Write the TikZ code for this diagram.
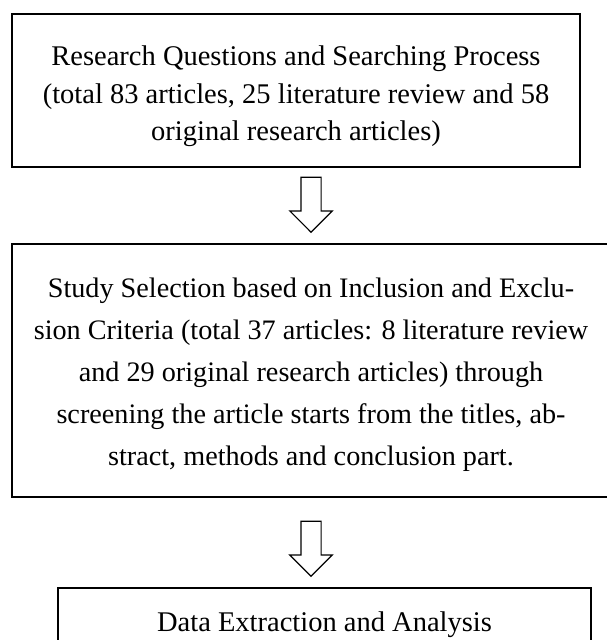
\documentclass[tikz,border=0pt]{standalone}
\usepackage{fontspec}
\setmainfont{Liberation Serif}
\usetikzlibrary{shapes.arrows}

\tikzset{
  stagebox/.style={draw, line width=1.8pt, align=center, inner sep=0pt},
  downarrow/.style={draw, line width=1.2pt, single arrow, shape border rotate=270,
    minimum height=55pt, minimum width=41pt, inner sep=9.5pt,
    single arrow head extend=11pt, single arrow head indent=0pt, anchor=tip}
}

\begin{document}
\begin{tikzpicture}[x=1pt, y=-1pt]
  \useasboundingbox (0,0) rectangle (607,640);
  \clip (0,0) rectangle (607,640);

  % stages
  \node[stagebox, minimum width=568pt, minimum height=153pt,
    font=\fontsize{28.5}{37.5}\selectfont] (research) at (296,90.5)
    {\rule{0pt}{32pt}Research Questions and Searching Process\\
     (total 83 articles, 25 literature review and 58\\
     original research articles)};
  \node[stagebox, minimum width=598pt, minimum height=253pt,
    font=\fontsize{28.2}{42}\selectfont] (selection) at (311,370.5)
    {\rule{0pt}{27.5pt}Study Selection based on Inclusion and Exclu-\\
     sion Criteria (total 37 articles: 8 literature review\\
     and 29 original research articles) through\\
     screening the article starts from the titles, ab-\\
     stract, methods and conclusion part.};
  \node[stagebox, minimum width=533pt, minimum height=68pt,
    font=\fontsize{28.5}{37.5}\selectfont] (analysis) at (324.5,622)
    {\rule{0pt}{25.7pt}Data Extraction and Analysis};

  % arrows between stages (placed by their tips)
  \node[downarrow] (arrowA) at (311,233) {};
  \node[downarrow] (arrowB) at (311,577) {};
\end{tikzpicture}
\end{document}
